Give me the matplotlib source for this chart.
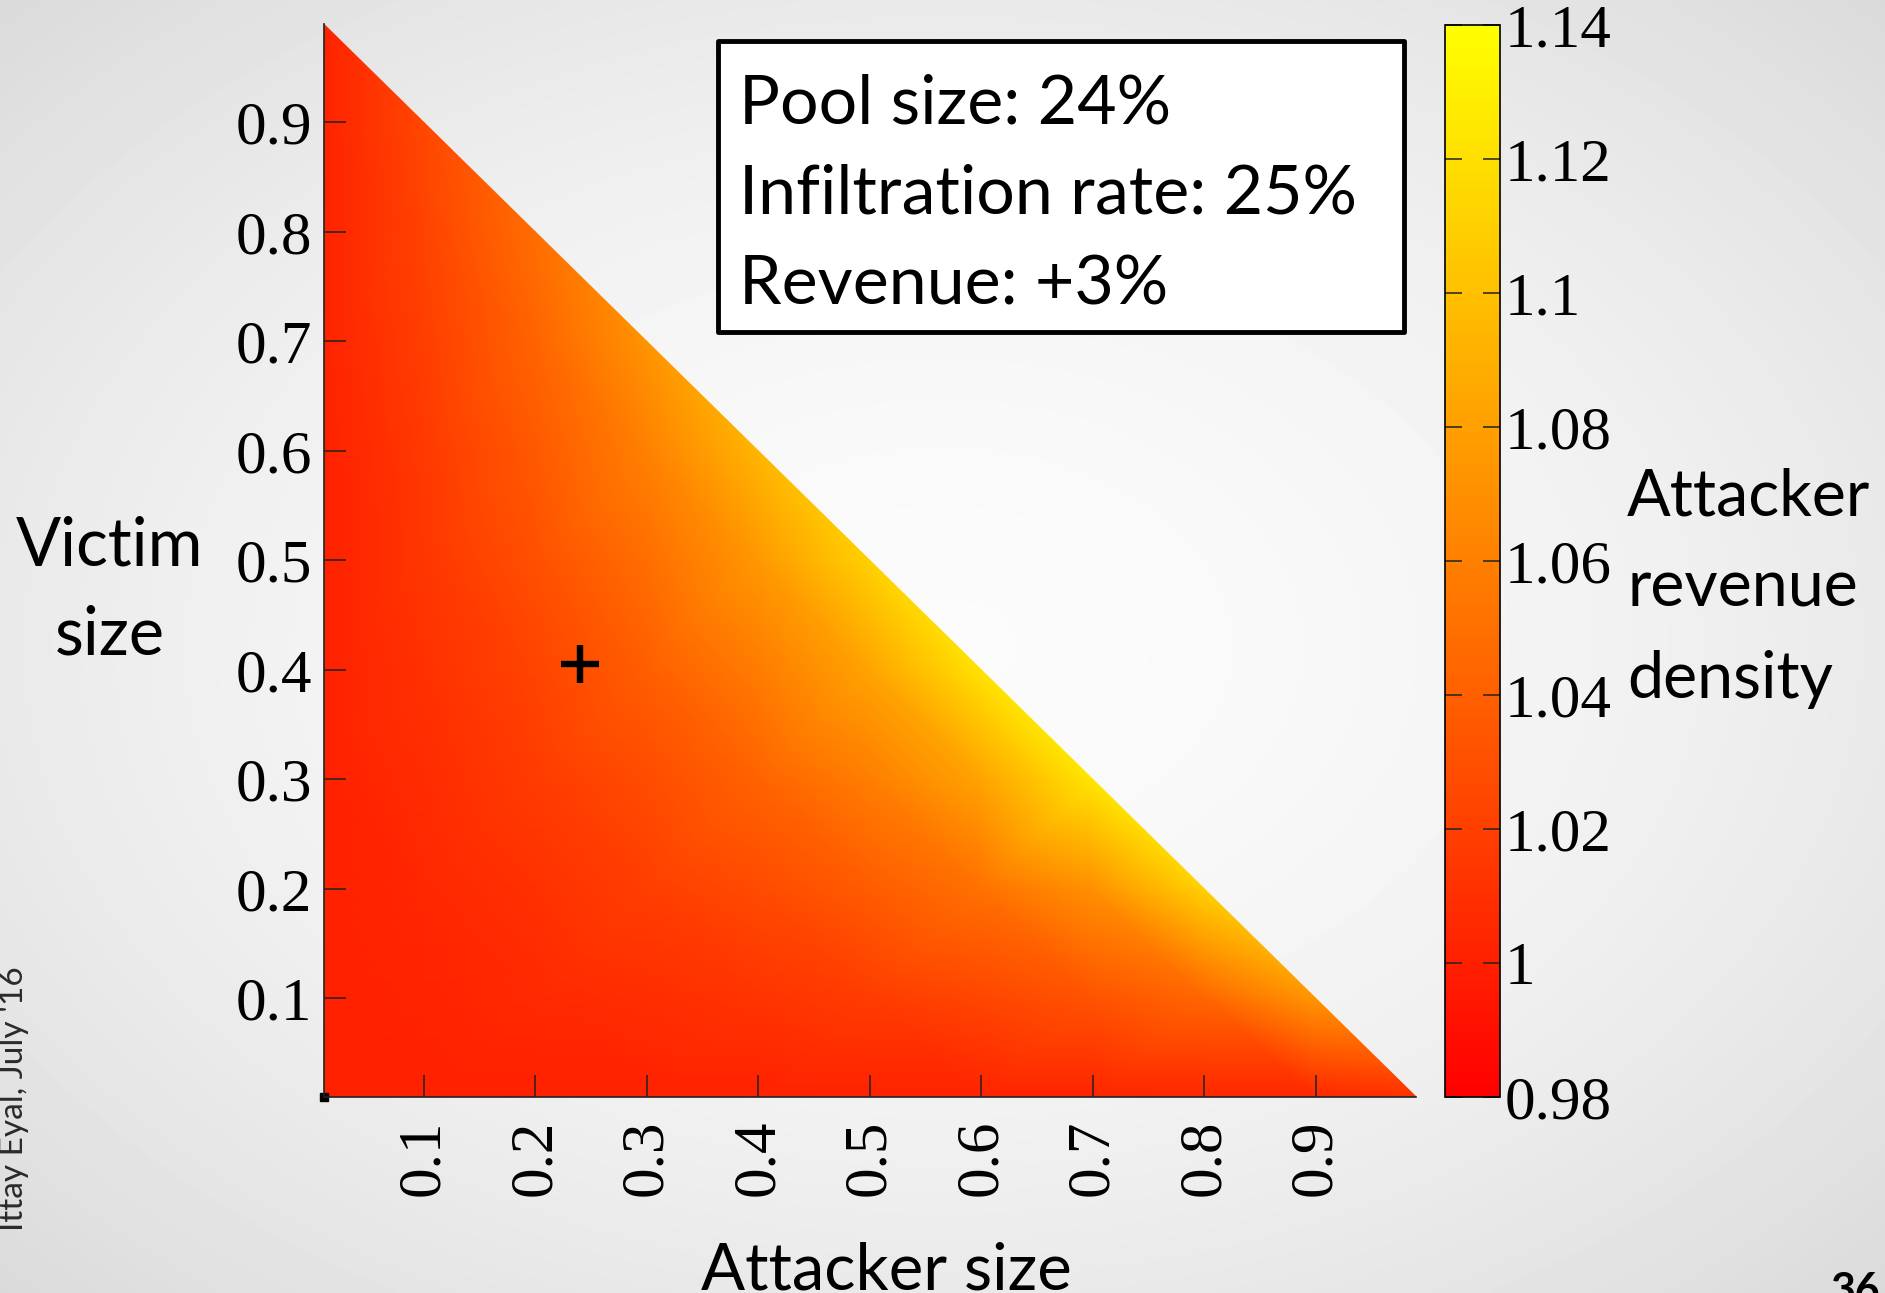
import numpy as np
import matplotlib.pyplot as plt
import matplotlib.tri as mtri
from matplotlib.patches import Rectangle

plt.rcParams['font.family'] = 'Liberation Serif'
SANS = 'Lato'

W, H = 1885, 1293

# sample points: attacker size (columns) and victim size (rows)
attacker = [0.01, 0.1, 0.2, 0.3, 0.4, 0.5, 0.6, 0.7, 0.8, 0.9, 0.99]
victim = [0.01, 0.1, 0.2, 0.3, 0.4, 0.5, 0.6, 0.7, 0.8, 0.9, 0.99]
nan = np.nan
# attacker revenue density, one row per victim size (nan where attacker + victim > 1)
density = [
    [1.000, 1.000, 1.001, 1.001, 1.001, 1.002, 1.002, 1.003, 1.004, 1.005, 1.010],
    [1.000, 1.003, 1.006, 1.009, 1.013, 1.018, 1.024, 1.032, 1.044, 1.074, nan],
    [1.001, 1.005, 1.011, 1.019, 1.027, 1.038, 1.051, 1.071, 1.111, nan, nan],
    [1.001, 1.008, 1.017, 1.028, 1.042, 1.059, 1.083, 1.124, nan, nan, nan],
    [1.001, 1.011, 1.023, 1.039, 1.058, 1.083, 1.122, nan, nan, nan, nan],
    [1.001, 1.014, 1.030, 1.049, 1.075, 1.111, nan, nan, nan, nan, nan],
    [1.001, 1.016, 1.036, 1.061, 1.094, nan, nan, nan, nan, nan, nan],
    [1.002, 1.019, 1.043, 1.073, nan, nan, nan, nan, nan, nan, nan],
    [1.002, 1.022, 1.049, nan, nan, nan, nan, nan, nan, nan, nan],
    [1.002, 1.025, nan, nan, nan, nan, nan, nan, nan, nan, nan],
    [1.0025, nan, nan, nan, nan, nan, nan, nan, nan, nan, nan],
]

# the highlighted configuration
pool_attacker = 0.24
pool_victim = 0.405

axis_ticks = [0.1, 0.2, 0.3, 0.4, 0.5, 0.6, 0.7, 0.8, 0.9]
cbar_ticks = [0.98, 1.0, 1.02, 1.04, 1.06, 1.08, 1.1, 1.12, 1.14]
info_lines = ['Pool size: 24%', 'Infiltration rate: 25%', 'Revenue: +3%']


def fx(px):
    return px / W


def fy(py):
    return 1 - py / H


fig = plt.figure(figsize=(W / 100, H / 100), dpi=100)

# grey slide background, lighter in the middle
bg = fig.add_axes([0, 0, 1, 1], zorder=-10)
gy, gx = np.mgrid[-1:1:300j, -1:1:440j]
r = np.hypot(gx, gy) / np.sqrt(2)
bg.imshow(0.985 - 0.13 * r ** 1.8, cmap='gray', vmin=0, vmax=1,
          aspect='auto', extent=[0, 1, 0, 1], interpolation='bilinear')
bg.axis('off')

# heat map; the axes span exactly the sampled range
ax = fig.add_axes([fx(323.5), fy(1097), fx(0.98 * 1115), 0.98 * 1095 / H])
ax.set_facecolor('none')
A, V = np.meshgrid(attacker, victim)
Z = np.array(density)
ok = ~np.isnan(Z)
tri = mtri.Triangulation(A[ok], V[ok])
p = tri.triangles
tx, ty = tri.x[p], tri.y[p]
area = 0.5 * np.abs((tx[:, 1] - tx[:, 0]) * (ty[:, 2] - ty[:, 0])
                    - (tx[:, 2] - tx[:, 0]) * (ty[:, 1] - ty[:, 0]))
tri.set_mask(area < 1e-7)
tpc = ax.tripcolor(tri, Z[ok], shading='gouraud', cmap='autumn',
                   vmin=cbar_ticks[0], vmax=cbar_ticks[-1])

ax.plot(pool_attacker, pool_victim, marker='+', ms=28, mew=4.6, color='black')
ax.plot(attacker[0], victim[0], marker='s', ms=6, color='black', clip_on=False)

ax.set_xlim(attacker[0], attacker[-1])
ax.set_ylim(victim[0], victim[-1])
for s in ['top', 'right']:
    ax.spines[s].set_visible(False)
for s in ['left', 'bottom']:
    ax.spines[s].set_linewidth(1.2)
    ax.spines[s].set_color('#222222')
ax.set_xticks(axis_ticks)
ax.set_yticks(axis_ticks)
ax.set_xticklabels([f'{t:g}' for t in axis_ticks], rotation=90)
ax.set_yticklabels([f'{t:g}' for t in axis_ticks])
ax.tick_params(direction='in', length=16, width=1.1, labelsize=44, color='#222222')
ax.tick_params(axis='x', pad=16)
ax.tick_params(axis='y', pad=8)

# colour bar
cax = fig.add_axes([fx(1445), fy(1097), fx(55), (1097 - 25) / H])
cb = fig.colorbar(tpc, cax=cax, ticks=cbar_ticks)
cb.ax.set_yticklabels([f'{t:g}' for t in cbar_ticks])
cax.tick_params(direction='in', left=True, right=True, length=12, width=1.1,
                labelsize=44, pad=3, color='#222222')
cb.outline.set_linewidth(1.2)

# info box
fig.add_artist(Rectangle((fx(718), fy(332)), fx(686), 291 / H, transform=fig.transFigure,
                         facecolor='white', edgecolor='black', lw=3.5, joinstyle='round'))
for i, line in enumerate(info_lines):
    fig.text(fx(739), fy(124 + 90 * i), line, family=SANS, fontsize=49,
             va='baseline', ha='left')

# axis titles
fig.text(fx(110), fy(565), 'Victim', family=SANS, fontsize=48, ha='center', va='baseline')
fig.text(fx(110), fy(655), 'size', family=SANS, fontsize=48, ha='center', va='baseline')
fig.text(fx(886), fy(1290), 'Attacker size', family=SANS, fontsize=47, ha='center', va='baseline')
for i, word in enumerate(['Attacker', 'revenue', 'density']):
    fig.text(fx(1627), fy(515 + 91.5 * i), word, family=SANS, fontsize=46.5,
             ha='left', va='baseline')

# slide footer
fig.text(fx(23), fy(1099), "Ittay Eyal, July '16", family=SANS, fontsize=24, color='#2a2a2a',
         rotation=90, rotation_mode='anchor', ha='center', va='baseline')
fig.text(fx(1880), fy(1304), '36', family=SANS, fontsize=31, fontweight='bold',
         ha='right', va='baseline')

fig.savefig('out.png', dpi=100)
